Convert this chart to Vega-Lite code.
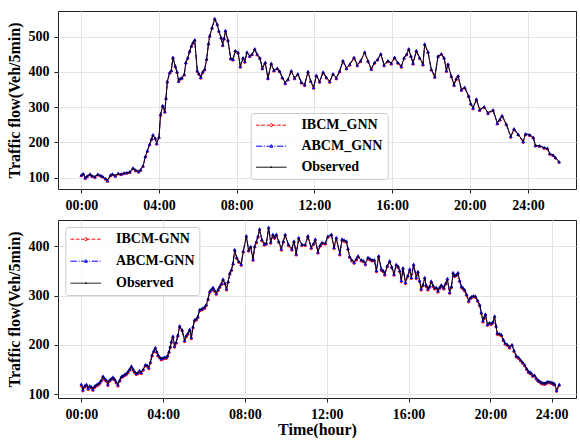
{
"$schema": "https://vega.github.io/schema/vega-lite/v6.json",
"autosize": {"type": "pad"},
"padding": {"left": 5, "top": 10, "right": 0, "bottom": 0},
"spacing": 6,
"config": {
 "view": {"stroke": "#222", "strokeWidth": 1},
 "font": "Liberation Serif",
 "axis": {"labelFont": "Liberation Serif", "labelFontWeight": "bold", "labelFontSize": 14, "labelColor": "#000",
  "titleFont": "Liberation Serif", "titleFontWeight": "bold", "titleFontSize": 16, "titleColor": "#000",
  "gridColor": "#e3e3e3", "gridWidth": 1, "domain": false, "tickColor": "#222", "tickSize": 4, "labelPadding": 5},
 "legend": {"labelFont": "Liberation Serif", "labelFontWeight": "bold", "labelFontSize": 14, "labelColor": "#000",
  "symbolSize": 196, "labelOffset": 31, "rowPadding": 7, "padding": 4.7, "labelBaseline": "middle",
  "strokeColor": "#cccccc", "fillColor": "rgba(255,255,255,0.8)", "cornerRadius": 3, "symbolStrokeWidth": 1, "symbolOpacity": 1}
},
"datasets": {
"top": [
{"h":0,"o":107,"i":105,"a":108},{"h":0.1,"o":110,"i":109,"a":112},{"h":0.2,"o":101,"i":97,"a":100},{"h":0.3,"o":104,"i":102,"a":105},
{"h":0.45,"o":109,"i":108,"a":111},{"h":0.55,"o":105,"i":103,"a":106},{"h":0.7,"o":104,"i":100,"a":103},{"h":0.85,"o":108,"i":107,"a":110},
{"h":1.0,"o":106,"i":104,"a":107},{"h":1.1,"o":103,"i":101,"a":104},{"h":1.25,"o":97,"i":95,"a":98},{"h":1.35,"o":93,"i":89,"a":92},
{"h":1.5,"o":106,"i":105,"a":108},{"h":1.6,"o":109,"i":108,"a":111},{"h":1.75,"o":107,"i":103,"a":106},{"h":1.9,"o":111,"i":110,"a":113},
{"h":2.05,"o":110,"i":108,"a":111},{"h":2.2,"o":113,"i":111,"a":114},{"h":2.35,"o":114,"i":112,"a":115},{"h":2.5,"o":116,"i":114,"a":117},
{"h":2.66,"o":126,"i":125,"a":128},{"h":2.8,"o":121,"i":119,"a":122},{"h":2.95,"o":119,"i":115,"a":118},{"h":3.05,"o":122,"i":120,"a":123},
{"h":3.18,"o":133,"i":131,"a":134},{"h":3.3,"o":160,"i":158,"a":161},{"h":3.4,"o":176,"i":174,"a":177},{"h":3.52,"o":195,"i":193,"a":196},
{"h":3.62,"o":210,"i":208,"a":211},{"h":3.69,"o":220,"i":219,"a":222},{"h":3.8,"o":212,"i":210,"a":213},{"h":3.88,"o":199,"i":195,"a":198},
{"h":4.0,"o":215,"i":213,"a":216},{"h":4.08,"o":280,"i":276,"a":281},{"h":4.19,"o":303,"i":302,"a":305},{"h":4.3,"o":289,"i":285,"a":288},
{"h":4.36,"o":325,"i":323,"a":326},{"h":4.43,"o":374,"i":370,"a":375},{"h":4.55,"o":398,"i":396,"a":399},{"h":4.63,"o":404,"i":402,"a":405},
{"h":4.72,"o":440,"i":439,"a":442},{"h":4.84,"o":416,"i":414,"a":417},{"h":4.93,"o":400,"i":398,"a":401},{"h":5.01,"o":376,"i":372,"a":375},
{"h":5.1,"o":381,"i":379,"a":382},{"h":5.18,"o":383,"i":381,"a":384},{"h":5.3,"o":393,"i":391,"a":394},{"h":5.38,"o":426,"i":424,"a":427},
{"h":5.48,"o":440,"i":438,"a":441},{"h":5.58,"o":459,"i":457,"a":460},{"h":5.67,"o":474,"i":472,"a":475},{"h":5.75,"o":483,"i":481,"a":484},
{"h":5.84,"o":490,"i":489,"a":492},{"h":5.97,"o":403,"i":401,"a":404},{"h":6.05,"o":395,"i":393,"a":396},{"h":6.15,"o":386,"i":382,"a":385},
{"h":6.25,"o":400,"i":398,"a":401},{"h":6.35,"o":407,"i":405,"a":408},{"h":6.45,"o":436,"i":434,"a":437},{"h":6.55,"o":480,"i":478,"a":481},
{"h":6.61,"o":502,"i":500,"a":503},{"h":6.73,"o":525,"i":523,"a":526},{"h":6.87,"o":550,"i":549,"a":552},{"h":7.0,"o":535,"i":533,"a":536},
{"h":7.08,"o":516,"i":514,"a":517},{"h":7.2,"o":497,"i":495,"a":498},{"h":7.28,"o":478,"i":474,"a":477},{"h":7.35,"o":495,"i":493,"a":496},
{"h":7.42,"o":516,"i":515,"a":518},{"h":7.55,"o":490,"i":488,"a":491},{"h":7.69,"o":440,"i":436,"a":439},{"h":7.81,"o":437,"i":433,"a":436},
{"h":7.93,"o":459,"i":458,"a":461},{"h":8.07,"o":455,"i":453,"a":456},{"h":8.19,"o":417,"i":413,"a":416},{"h":8.33,"o":440,"i":438,"a":441},
{"h":8.42,"o":431,"i":427,"a":430},{"h":8.53,"o":455,"i":454,"a":457},{"h":8.67,"o":445,"i":443,"a":446},{"h":8.79,"o":450,"i":448,"a":451},
{"h":8.93,"o":464,"i":463,"a":466},{"h":9.05,"o":450,"i":448,"a":451},{"h":9.19,"o":440,"i":438,"a":441},{"h":9.32,"o":412,"i":408,"a":411},
{"h":9.47,"o":426,"i":425,"a":428},{"h":9.61,"o":384,"i":380,"a":383},{"h":9.78,"o":423,"i":422,"a":425},{"h":9.92,"o":404,"i":402,"a":405},
{"h":10.09,"o":410,"i":408,"a":411},{"h":10.21,"o":402,"i":400,"a":403},{"h":10.35,"o":384,"i":382,"a":385},{"h":10.5,"o":370,"i":366,"a":369},
{"h":10.64,"o":379,"i":377,"a":380},{"h":10.81,"o":402,"i":401,"a":404},{"h":10.98,"o":384,"i":380,"a":383},{"h":11.15,"o":393,"i":392,"a":395},
{"h":11.33,"o":370,"i":368,"a":371},{"h":11.5,"o":365,"i":361,"a":364},{"h":11.67,"o":400,"i":399,"a":402},{"h":11.81,"o":374,"i":372,"a":375},
{"h":11.96,"o":357,"i":353,"a":356},{"h":12.1,"o":389,"i":388,"a":391},{"h":12.27,"o":374,"i":370,"a":373},{"h":12.45,"o":398,"i":397,"a":400},
{"h":12.62,"o":384,"i":382,"a":385},{"h":12.79,"o":374,"i":370,"a":373},{"h":12.96,"o":393,"i":392,"a":395},{"h":13.13,"o":384,"i":380,"a":383},
{"h":13.3,"o":402,"i":400,"a":403},{"h":13.47,"o":431,"i":430,"a":433},{"h":13.65,"o":412,"i":408,"a":411},{"h":13.82,"o":421,"i":419,"a":422},
{"h":14.04,"o":440,"i":439,"a":442},{"h":14.21,"o":421,"i":417,"a":420},{"h":14.38,"o":431,"i":429,"a":432},{"h":14.59,"o":455,"i":454,"a":457},
{"h":14.76,"o":431,"i":429,"a":432},{"h":14.93,"o":410,"i":406,"a":409},{"h":15.1,"o":426,"i":424,"a":427},{"h":15.25,"o":435,"i":433,"a":436},
{"h":15.42,"o":450,"i":449,"a":452},{"h":15.59,"o":421,"i":417,"a":420},{"h":15.79,"o":431,"i":429,"a":432},{"h":15.96,"o":426,"i":422,"a":425},
{"h":16.13,"o":440,"i":439,"a":442},{"h":16.3,"o":426,"i":424,"a":427},{"h":16.48,"o":417,"i":413,"a":416},{"h":16.62,"o":440,"i":438,"a":441},
{"h":16.75,"o":450,"i":448,"a":451},{"h":16.86,"o":464,"i":463,"a":466},{"h":16.97,"o":445,"i":443,"a":446},{"h":17.08,"o":426,"i":422,"a":425},
{"h":17.25,"o":459,"i":458,"a":461},{"h":17.42,"o":440,"i":438,"a":441},{"h":17.59,"o":423,"i":419,"a":422},{"h":17.68,"o":478,"i":477,"a":480},
{"h":17.85,"o":457,"i":455,"a":458},{"h":18.02,"o":407,"i":405,"a":408},{"h":18.2,"o":388,"i":384,"a":387},{"h":18.37,"o":445,"i":443,"a":446},
{"h":18.54,"o":450,"i":449,"a":452},{"h":18.68,"o":440,"i":438,"a":441},{"h":18.8,"o":405,"i":401,"a":404},{"h":18.88,"o":421,"i":420,"a":423},
{"h":19.05,"o":388,"i":386,"a":389},{"h":19.19,"o":365,"i":361,"a":364},{"h":19.3,"o":380,"i":378,"a":381},{"h":19.4,"o":388,"i":387,"a":390},
{"h":19.57,"o":351,"i":347,"a":350},{"h":19.74,"o":355,"i":354,"a":357},{"h":19.94,"o":332,"i":330,"a":333},{"h":20.05,"o":310,"i":308,"a":311},
{"h":20.17,"o":299,"i":295,"a":298},{"h":20.34,"o":322,"i":321,"a":324},{"h":20.51,"o":294,"i":290,"a":293},{"h":20.74,"o":300,"i":299,"a":302},
{"h":20.94,"o":285,"i":281,"a":284},{"h":21.2,"o":291,"i":290,"a":293},{"h":21.42,"o":256,"i":252,"a":255},{"h":21.55,"o":265,"i":263,"a":266},
{"h":21.66,"o":275,"i":274,"a":277},{"h":21.88,"o":252,"i":250,"a":253},{"h":22.11,"o":218,"i":214,"a":217},{"h":22.28,"o":237,"i":236,"a":239},
{"h":22.49,"o":223,"i":221,"a":224},{"h":22.75,"o":204,"i":200,"a":203},{"h":22.87,"o":223,"i":222,"a":225},{"h":23.09,"o":221,"i":219,"a":222},
{"h":23.27,"o":214,"i":212,"a":215},{"h":23.38,"o":193,"i":189,"a":192},{"h":23.6,"o":190,"i":188,"a":191},{"h":23.83,"o":185,"i":183,"a":186},
{"h":24.0,"o":183,"i":181,"a":184},{"h":24.12,"o":168,"i":166,"a":169},{"h":24.29,"o":164,"i":162,"a":165},{"h":24.41,"o":157,"i":155,"a":158},
{"h":24.6,"o":145,"i":143,"a":146}
],
"bot": [
{"h":0,"o":118,"i":117,"a":120},{"h":0.08,"o":110,"i":106,"a":109},{"h":0.17,"o":116,"i":114,"a":117},{"h":0.25,"o":118,"i":117,"a":120},
{"h":0.33,"o":113,"i":109,"a":112},{"h":0.41,"o":116,"i":114,"a":117},{"h":0.5,"o":114,"i":112,"a":115},{"h":0.57,"o":111,"i":107,"a":110},
{"h":0.65,"o":115,"i":113,"a":116},{"h":0.73,"o":118,"i":116,"a":119},{"h":0.82,"o":120,"i":118,"a":121},{"h":0.9,"o":123,"i":121,"a":124},
{"h":0.98,"o":128,"i":126,"a":129},{"h":1.06,"o":135,"i":134,"a":137},{"h":1.14,"o":131,"i":129,"a":132},{"h":1.22,"o":128,"i":126,"a":129},
{"h":1.3,"o":121,"i":117,"a":120},{"h":1.38,"o":128,"i":126,"a":129},{"h":1.47,"o":131,"i":129,"a":132},{"h":1.55,"o":133,"i":132,"a":135},
{"h":1.63,"o":130,"i":128,"a":131},{"h":1.71,"o":124,"i":122,"a":125},{"h":1.79,"o":120,"i":116,"a":119},{"h":1.88,"o":128,"i":126,"a":129},
{"h":1.96,"o":135,"i":133,"a":136},{"h":2.04,"o":137,"i":135,"a":138},{"h":2.12,"o":139,"i":137,"a":140},{"h":2.2,"o":141,"i":139,"a":142},
{"h":2.28,"o":145,"i":143,"a":146},{"h":2.36,"o":150,"i":148,"a":151},{"h":2.45,"o":155,"i":154,"a":157},{"h":2.53,"o":150,"i":148,"a":151},
{"h":2.61,"o":145,"i":143,"a":146},{"h":2.69,"o":143,"i":139,"a":142},{"h":2.77,"o":143,"i":141,"a":144},{"h":2.85,"o":147,"i":145,"a":148},
{"h":2.93,"o":145,"i":141,"a":144},{"h":3.03,"o":150,"i":148,"a":151},{"h":3.13,"o":158,"i":157,"a":160},{"h":3.22,"o":158,"i":156,"a":159},
{"h":3.3,"o":155,"i":151,"a":154},{"h":3.38,"o":165,"i":163,"a":166},{"h":3.46,"o":179,"i":177,"a":180},{"h":3.54,"o":187,"i":185,"a":188},
{"h":3.62,"o":193,"i":192,"a":195},{"h":3.69,"o":186,"i":184,"a":187},{"h":3.75,"o":179,"i":177,"a":180},{"h":3.83,"o":175,"i":173,"a":176},
{"h":3.91,"o":173,"i":169,"a":172},{"h":4.0,"o":173,"i":171,"a":174},{"h":4.08,"o":174,"i":172,"a":175},{"h":4.16,"o":174,"i":172,"a":175},
{"h":4.22,"o":178,"i":176,"a":179},{"h":4.29,"o":186,"i":184,"a":187},{"h":4.35,"o":196,"i":194,"a":197},{"h":4.4,"o":206,"i":204,"a":207},
{"h":4.48,"o":216,"i":215,"a":218},{"h":4.56,"o":199,"i":195,"a":198},{"h":4.64,"o":205,"i":203,"a":206},{"h":4.72,"o":219,"i":217,"a":220},
{"h":4.81,"o":237,"i":236,"a":239},{"h":4.93,"o":230,"i":228,"a":231},{"h":5.05,"o":210,"i":206,"a":209},{"h":5.13,"o":218,"i":216,"a":219},
{"h":5.21,"o":223,"i":221,"a":224},{"h":5.3,"o":230,"i":229,"a":232},{"h":5.38,"o":216,"i":212,"a":215},{"h":5.46,"o":236,"i":234,"a":237},
{"h":5.54,"o":250,"i":248,"a":251},{"h":5.62,"o":252,"i":250,"a":253},{"h":5.7,"o":257,"i":255,"a":258},{"h":5.79,"o":271,"i":269,"a":272},
{"h":5.87,"o":272,"i":270,"a":273},{"h":5.95,"o":274,"i":272,"a":275},{"h":6.03,"o":276,"i":274,"a":277},{"h":6.11,"o":281,"i":279,"a":282},
{"h":6.2,"o":293,"i":291,"a":294},{"h":6.28,"o":308,"i":306,"a":309},{"h":6.36,"o":312,"i":310,"a":313},{"h":6.44,"o":315,"i":314,"a":317},
{"h":6.52,"o":310,"i":308,"a":311},{"h":6.6,"o":306,"i":302,"a":305},{"h":6.69,"o":312,"i":310,"a":313},{"h":6.77,"o":318,"i":316,"a":319},
{"h":6.85,"o":324,"i":322,"a":325},{"h":6.93,"o":332,"i":331,"a":334},{"h":7.02,"o":325,"i":323,"a":326},{"h":7.1,"o":315,"i":311,"a":314},
{"h":7.18,"o":328,"i":326,"a":329},{"h":7.26,"o":345,"i":343,"a":346},{"h":7.34,"o":352,"i":350,"a":353},{"h":7.42,"o":365,"i":363,"a":366},
{"h":7.5,"o":392,"i":391,"a":394},{"h":7.6,"o":377,"i":375,"a":378},{"h":7.7,"o":369,"i":367,"a":370},{"h":7.82,"o":365,"i":361,"a":364},
{"h":7.92,"o":390,"i":388,"a":391},{"h":8.07,"o":420,"i":419,"a":422},{"h":8.18,"o":392,"i":390,"a":393},{"h":8.28,"o":399,"i":397,"a":400},
{"h":8.4,"o":375,"i":371,"a":374},{"h":8.48,"o":400,"i":398,"a":401},{"h":8.56,"o":409,"i":407,"a":410},{"h":8.64,"o":420,"i":418,"a":421},
{"h":8.72,"o":434,"i":433,"a":436},{"h":8.83,"o":413,"i":411,"a":414},{"h":8.95,"o":406,"i":402,"a":405},{"h":9.05,"o":406,"i":404,"a":407},
{"h":9.16,"o":437,"i":436,"a":439},{"h":9.26,"o":410,"i":406,"a":409},{"h":9.37,"o":423,"i":422,"a":425},{"h":9.45,"o":418,"i":416,"a":419},
{"h":9.54,"o":423,"i":422,"a":425},{"h":9.65,"o":410,"i":408,"a":411},{"h":9.78,"o":396,"i":392,"a":395},{"h":9.88,"o":410,"i":408,"a":411},
{"h":9.97,"o":423,"i":422,"a":425},{"h":10.13,"o":403,"i":401,"a":404},{"h":10.3,"o":396,"i":392,"a":395},{"h":10.4,"o":410,"i":408,"a":411},
{"h":10.51,"o":386,"i":382,"a":385},{"h":10.63,"o":416,"i":415,"a":418},{"h":10.79,"o":403,"i":401,"a":404},{"h":10.95,"o":403,"i":401,"a":404},
{"h":11.08,"o":420,"i":419,"a":422},{"h":11.24,"o":399,"i":395,"a":398},{"h":11.35,"o":405,"i":403,"a":406},{"h":11.44,"o":413,"i":412,"a":415},
{"h":11.57,"o":390,"i":386,"a":389},{"h":11.68,"o":402,"i":400,"a":403},{"h":11.77,"o":407,"i":405,"a":408},{"h":11.93,"o":406,"i":404,"a":407},
{"h":12.06,"o":420,"i":418,"a":421},{"h":12.23,"o":423,"i":422,"a":425},{"h":12.36,"o":399,"i":395,"a":398},{"h":12.47,"o":416,"i":415,"a":418},
{"h":12.64,"o":386,"i":382,"a":385},{"h":12.75,"o":413,"i":412,"a":415},{"h":12.85,"o":412,"i":410,"a":413},{"h":12.96,"o":410,"i":408,"a":411},
{"h":13.04,"o":395,"i":393,"a":396},{"h":13.12,"o":379,"i":377,"a":380},{"h":13.22,"o":372,"i":370,"a":373},{"h":13.34,"o":369,"i":365,"a":368},
{"h":13.45,"o":374,"i":372,"a":375},{"h":13.53,"o":379,"i":378,"a":381},{"h":13.69,"o":372,"i":370,"a":373},{"h":13.8,"o":370,"i":368,"a":371},
{"h":13.89,"o":366,"i":362,"a":365},{"h":14.02,"o":376,"i":375,"a":378},{"h":14.12,"o":374,"i":372,"a":375},{"h":14.22,"o":372,"i":370,"a":373},
{"h":14.33,"o":372,"i":370,"a":373},{"h":14.43,"o":352,"i":348,"a":351},{"h":14.54,"o":379,"i":378,"a":381},{"h":14.67,"o":355,"i":351,"a":354},
{"h":14.76,"o":350,"i":348,"a":351},{"h":14.84,"o":345,"i":341,"a":344},{"h":14.96,"o":360,"i":358,"a":361},{"h":15.08,"o":369,"i":368,"a":371},
{"h":15.18,"o":358,"i":356,"a":359},{"h":15.29,"o":345,"i":341,"a":344},{"h":15.4,"o":362,"i":361,"a":364},{"h":15.49,"o":359,"i":357,"a":360},
{"h":15.57,"o":350,"i":348,"a":351},{"h":15.65,"o":332,"i":328,"a":331},{"h":15.73,"o":355,"i":354,"a":357},{"h":15.85,"o":328,"i":324,"a":327},
{"h":15.96,"o":340,"i":338,"a":341},{"h":16.06,"o":352,"i":351,"a":354},{"h":16.14,"o":338,"i":334,"a":337},{"h":16.25,"o":362,"i":361,"a":364},
{"h":16.38,"o":338,"i":334,"a":337},{"h":16.46,"o":348,"i":346,"a":349},{"h":16.54,"o":330,"i":328,"a":331},{"h":16.62,"o":315,"i":311,"a":314},
{"h":16.71,"o":322,"i":320,"a":323},{"h":16.79,"o":335,"i":334,"a":337},{"h":16.87,"o":320,"i":318,"a":321},{"h":16.95,"o":315,"i":311,"a":314},
{"h":17.03,"o":318,"i":316,"a":319},{"h":17.11,"o":328,"i":327,"a":330},{"h":17.2,"o":320,"i":318,"a":321},{"h":17.28,"o":315,"i":313,"a":316},
{"h":17.36,"o":316,"i":314,"a":317},{"h":17.44,"o":311,"i":307,"a":310},{"h":17.52,"o":316,"i":314,"a":317},{"h":17.6,"o":321,"i":319,"a":322},
{"h":17.68,"o":318,"i":316,"a":319},{"h":17.73,"o":315,"i":313,"a":316},{"h":17.82,"o":325,"i":323,"a":326},{"h":17.9,"o":333,"i":332,"a":335},
{"h":18.01,"o":308,"i":304,"a":307},{"h":18.1,"o":318,"i":316,"a":319},{"h":18.18,"o":345,"i":344,"a":347},{"h":18.26,"o":340,"i":338,"a":341},
{"h":18.34,"o":342,"i":340,"a":343},{"h":18.42,"o":345,"i":344,"a":347},{"h":18.5,"o":330,"i":328,"a":331},{"h":18.59,"o":318,"i":316,"a":319},
{"h":18.67,"o":315,"i":313,"a":316},{"h":18.75,"o":311,"i":309,"a":312},{"h":18.84,"o":302,"i":300,"a":303},{"h":18.94,"o":291,"i":287,"a":290},
{"h":19.02,"o":295,"i":293,"a":296},{"h":19.1,"o":298,"i":296,"a":299},{"h":19.19,"o":299,"i":297,"a":300},{"h":19.27,"o":298,"i":296,"a":299},
{"h":19.38,"o":290,"i":288,"a":291},{"h":19.48,"o":281,"i":279,"a":282},{"h":19.56,"o":265,"i":263,"a":266},{"h":19.64,"o":250,"i":246,"a":249},
{"h":19.7,"o":255,"i":253,"a":256},{"h":19.76,"o":261,"i":260,"a":263},{"h":19.86,"o":243,"i":239,"a":242},{"h":19.96,"o":244,"i":242,"a":245},
{"h":20.05,"o":243,"i":241,"a":244},{"h":20.13,"o":246,"i":244,"a":247},{"h":20.21,"o":257,"i":256,"a":259},{"h":20.28,"o":238,"i":236,"a":239},
{"h":20.34,"o":223,"i":221,"a":224},{"h":20.44,"o":222,"i":220,"a":223},{"h":20.54,"o":220,"i":218,"a":221},{"h":20.64,"o":210,"i":208,"a":211},
{"h":20.73,"o":203,"i":201,"a":204},{"h":20.84,"o":200,"i":198,"a":201},{"h":20.94,"o":197,"i":193,"a":196},{"h":21.06,"o":199,"i":198,"a":201},
{"h":21.16,"o":188,"i":186,"a":189},{"h":21.27,"o":177,"i":175,"a":178},{"h":21.38,"o":174,"i":172,"a":175},{"h":21.48,"o":169,"i":167,"a":170},
{"h":21.58,"o":164,"i":162,"a":165},{"h":21.68,"o":159,"i":157,"a":160},{"h":21.78,"o":151,"i":149,"a":152},{"h":21.87,"o":145,"i":143,"a":146},
{"h":21.94,"o":144,"i":142,"a":145},{"h":22.0,"o":142,"i":140,"a":143},{"h":22.08,"o":137,"i":135,"a":138},{"h":22.16,"o":138,"i":136,"a":139},
{"h":22.25,"o":132,"i":130,"a":133},{"h":22.33,"o":128,"i":126,"a":129},{"h":22.41,"o":126,"i":124,"a":127},{"h":22.49,"o":123,"i":121,"a":124},
{"h":22.57,"o":122,"i":120,"a":123},{"h":22.65,"o":121,"i":119,"a":122},{"h":22.74,"o":123,"i":121,"a":124},{"h":22.82,"o":125,"i":123,"a":126},
{"h":22.92,"o":124,"i":122,"a":125},{"h":23.01,"o":123,"i":121,"a":124},{"h":23.08,"o":121,"i":119,"a":122},{"h":23.14,"o":120,"i":118,"a":121},
{"h":23.24,"o":109,"i":105,"a":108},{"h":23.37,"o":118,"i":117,"a":120}
]
},
"vconcat": [
{
 "width": 518, "height": 178,
 "data": {"name": "top"},
 "transform": [{"fold": ["i", "a", "o"], "as": ["series", "flow"]}],
 "encoding": {
  "x": {"field": "h", "type": "quantitative", "scale": {"domain": [-1.2, 25.47], "nice": false, "zero": false},
   "axis": {"values": [0, 4, 8, 12, 16, 20, 23], "labelExpr": "datum.value == 23 ? '24:00' : (datum.value < 10 ? '0' : '') + datum.value + ':00'", "title": null}},
  "y": {"field": "flow", "type": "quantitative", "scale": {"domain": [68, 573], "nice": false, "zero": false},
   "axis": {"values": [100, 200, 300, 400, 500], "title": "Traffic flow(Veh/5min)", "titlePadding": 6}}
 },
 "layer": [
  {"transform": [{"filter": "datum.series == 'i'"}],
   "mark": {"type": "line", "strokeWidth": 0.9, "color": "#ff0000", "strokeDash": [3.7, 1.6], "clip": true}, "encoding": {}},
  {"transform": [{"filter": "datum.series == 'i'"}],
   "mark": {"type": "point", "filled": true, "opacity": 1, "strokeWidth": 0, "color": "#ff0000", "shape": "circle", "size": 8, "clip": true}, "encoding": {}},
  {"transform": [{"filter": "datum.series == 'a'"}],
   "mark": {"type": "line", "strokeWidth": 0.9, "color": "#0000ff", "strokeDash": [6.4, 1.6, 1, 1.6], "clip": true}, "encoding": {}},
  {"transform": [{"filter": "datum.series == 'a'"}],
   "mark": {"type": "point", "filled": true, "opacity": 1, "strokeWidth": 0, "color": "#0000ff", "shape": "triangle-up", "size": 14, "clip": true}, "encoding": {}},
  {"transform": [{"filter": "datum.series == 'o'"}],
   "mark": {"type": "line", "strokeWidth": 0.9, "color": "#000000", "clip": true}, "encoding": {}},
  {"transform": [{"filter": "datum.series == 'o'"}],
   "mark": {"type": "point", "filled": true, "opacity": 1, "strokeWidth": 0, "color": "#000000", "shape": "circle", "size": 2, "clip": true}, "encoding": {}},
  {"transform": [{"filter": "false"}],
   "mark": {"type": "point", "filled": false, "strokeWidth": 1, "opacity": 1},
   "encoding": {
    "color": {"field": "series", "type": "nominal", "scale": {"domain": ["i", "a", "o"], "range": ["#ff0000", "#0000ff", "#000000"]},
     "legend": {"orient": "none", "legendX": 192.7, "legendY": 102, "rowPadding": 6, "title": null, "labelExpr": "datum.value == 'i' ? 'IBCM_GNN' : datum.value == 'a' ? 'ABCM_GNN' : 'Observed'"}},
    "shape": {"field": "series", "type": "nominal", "scale": {"domain": ["i", "a", "o"], "range": ["M-1,0L3.37,0M1.4,0A0.21,0.21,0,1,1,0.98,0A0.21,0.21,0,1,1,1.4,0Z", "M-1,0L3.37,0M1.19,-0.26L1.42,0.15L0.96,0.15Z", "M-1,0L3.37,0M1.26,0A0.07,0.07,0,1,1,1.12,0A0.07,0.07,0,1,1,1.26,0Z"]},
     "legend": {"orient": "none", "legendX": 192.7, "legendY": 102, "rowPadding": 6, "title": null, "labelExpr": "datum.value == 'i' ? 'IBCM_GNN' : datum.value == 'a' ? 'ABCM_GNN' : 'Observed'"}},
    "strokeDash": {"field": "series", "type": "nominal", "scale": {"domain": ["i", "a", "o"], "range": [[3.7, 1.6], [6.4, 1.6, 1, 1.6], [1, 0]]},
     "legend": {"orient": "none", "legendX": 192.7, "legendY": 102, "rowPadding": 6, "title": null, "labelExpr": "datum.value == 'i' ? 'IBCM_GNN' : datum.value == 'a' ? 'ABCM_GNN' : 'Observed'"}}
   }}
 ]
},
{
 "width": 518, "height": 178,
 "data": {"name": "bot"},
 "transform": [{"fold": ["i", "a", "o"], "as": ["series", "flow"]}],
 "encoding": {
  "x": {"field": "h", "type": "quantitative", "scale": {"domain": [-1.14, 24.19], "nice": false, "zero": false},
   "axis": {"values": [0, 4, 8, 12, 16, 20, 23], "labelExpr": "datum.value == 23 ? '24:00' : (datum.value < 10 ? '0' : '') + datum.value + ':00'", "title": "Time(hour)", "titlePadding": 0}},
  "y": {"field": "flow", "type": "quantitative", "scale": {"domain": [92, 453.5], "nice": false, "zero": false},
   "axis": {"values": [100, 200, 300, 400], "title": "Traffic flow(Veh/5min)", "titlePadding": 6}}
 },
 "layer": [
  {"transform": [{"filter": "datum.series == 'i'"}],
   "mark": {"type": "line", "strokeWidth": 0.9, "color": "#ff0000", "strokeDash": [3.7, 1.6], "clip": true}, "encoding": {}},
  {"transform": [{"filter": "datum.series == 'i'"}],
   "mark": {"type": "point", "filled": true, "opacity": 1, "strokeWidth": 0, "color": "#ff0000", "shape": "circle", "size": 8, "clip": true}, "encoding": {}},
  {"transform": [{"filter": "datum.series == 'a'"}],
   "mark": {"type": "line", "strokeWidth": 0.9, "color": "#0000ff", "strokeDash": [6.4, 1.6, 1, 1.6], "clip": true}, "encoding": {}},
  {"transform": [{"filter": "datum.series == 'a'"}],
   "mark": {"type": "point", "filled": true, "opacity": 1, "strokeWidth": 0, "color": "#0000ff", "shape": "triangle-up", "size": 14, "clip": true}, "encoding": {}},
  {"transform": [{"filter": "datum.series == 'o'"}],
   "mark": {"type": "line", "strokeWidth": 0.9, "color": "#000000", "clip": true}, "encoding": {}},
  {"transform": [{"filter": "datum.series == 'o'"}],
   "mark": {"type": "point", "filled": true, "opacity": 1, "strokeWidth": 0, "color": "#000000", "shape": "circle", "size": 2, "clip": true}, "encoding": {}},
  {"transform": [{"filter": "false"}],
   "mark": {"type": "point", "filled": false, "strokeWidth": 1, "opacity": 1},
   "encoding": {
    "color": {"field": "series", "type": "nominal", "scale": {"domain": ["i", "a", "o"], "range": ["#ff0000", "#0000ff", "#000000"]},
     "legend": {"orient": "none", "legendX": 7.3, "legendY": 7, "title": null, "labelExpr": "datum.value == 'i' ? 'IBCM-GNN' : datum.value == 'a' ? 'ABCM-GNN' : 'Observed'"}},
    "shape": {"field": "series", "type": "nominal", "scale": {"domain": ["i", "a", "o"], "range": ["M-1,0L3.37,0M1.4,0A0.21,0.21,0,1,1,0.98,0A0.21,0.21,0,1,1,1.4,0Z", "M-1,0L3.37,0M1.19,-0.26L1.42,0.15L0.96,0.15Z", "M-1,0L3.37,0M1.26,0A0.07,0.07,0,1,1,1.12,0A0.07,0.07,0,1,1,1.26,0Z"]},
     "legend": {"orient": "none", "legendX": 7.3, "legendY": 7, "title": null, "labelExpr": "datum.value == 'i' ? 'IBCM-GNN' : datum.value == 'a' ? 'ABCM-GNN' : 'Observed'"}},
    "strokeDash": {"field": "series", "type": "nominal", "scale": {"domain": ["i", "a", "o"], "range": [[3.7, 1.6], [6.4, 1.6, 1, 1.6], [1, 0]]},
     "legend": {"orient": "none", "legendX": 7.3, "legendY": 7, "title": null, "labelExpr": "datum.value == 'i' ? 'IBCM-GNN' : datum.value == 'a' ? 'ABCM-GNN' : 'Observed'"}}
   }}
 ]
}
],
"resolve": {"scale": {"color": "independent", "shape": "independent", "strokeDash": "independent", "x": "independent", "y": "independent"}, "legend": {"color": "independent", "shape": "independent", "strokeDash": "independent"}}
}
